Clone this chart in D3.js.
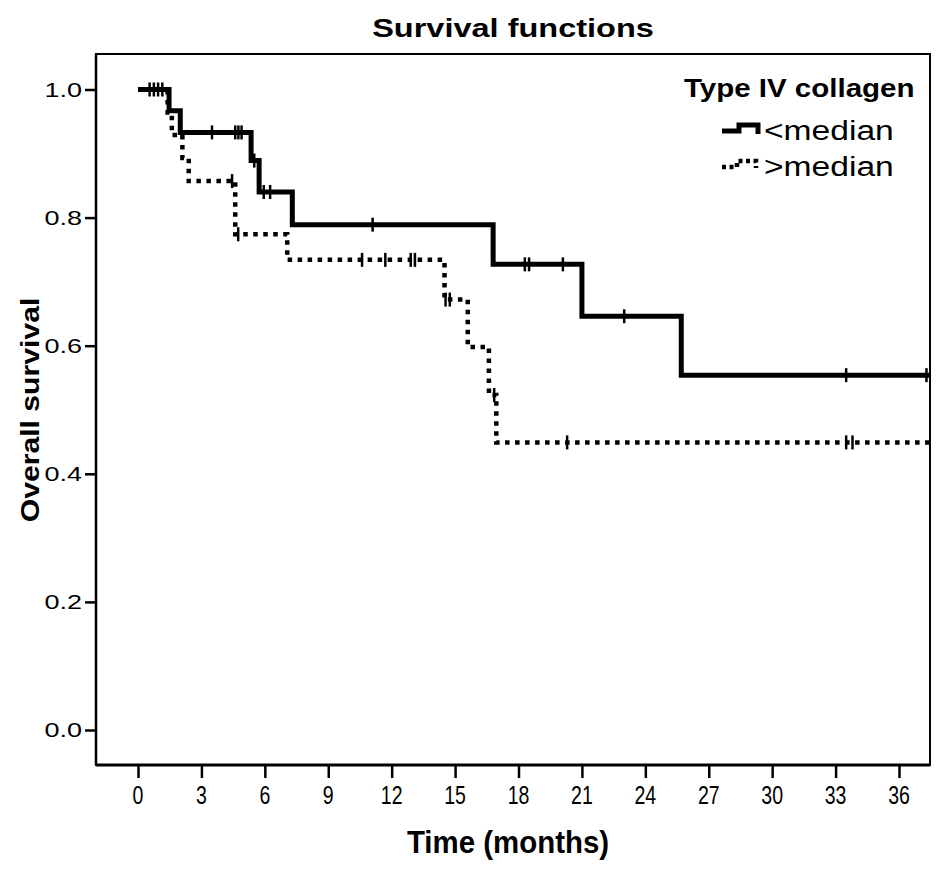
<!DOCTYPE html>
<html>
<head>
<meta charset="utf-8">
<script src="https://cdnjs.cloudflare.com/ajax/libs/d3/7.8.5/d3.min.js"></script>
<style>
  body { margin: 0; background: #fff; }
  text { font-family: "Liberation Sans", Arial, sans-serif; fill: #000; }
</style>
</head>
<body>
<div id="chart"></div>
<script>
// Kaplan-Meier curves

// ==========================================================
// data
var xTicks = [0, 3, 6, 9, 12, 15, 18, 21, 24, 27, 30, 33, 36];
var yTicks = [0.0, 0.2, 0.4, 0.6, 0.8, 1.0];
var endTime = 37.45;

// <median group: times where the curve steps down, and survival after the step
var lowTimes = [0, 1.47, 2.0, 5.35, 5.73, 7.3, 16.8, 21.0, 25.7];
var lowSurv = [1.0, 0.967, 0.933, 0.889, 0.840, 0.789, 0.727, 0.646, 0.554];
var lowCensored = [0.55, 0.95, 3.5, 4.6, 4.75, 4.9, 5.5, 5.95, 6.25, 11.1, 18.3, 18.5, 20.1, 23.0, 33.5, 37.3];

// >median group
var highTimes = [0, 1.4, 1.6, 2.1, 2.4, 4.6, 7.06, 14.5, 15.6, 16.6, 16.95];
var highSurv = [1.0, 0.964, 0.929, 0.893, 0.857, 0.774, 0.734, 0.672, 0.598, 0.523, 0.449];
var highCensored = [0.75, 1.15, 4.45, 4.74, 10.6, 11.7, 12.9, 13.1, 14.55, 14.75, 16.85, 20.3, 33.5, 33.8];

var groupLabels = ["<median", ">median"];

// ==========================================================
// size
var svgWidth = 945;
var svgHeight = 874;

var frame = { left: 96, top: 54, right: 930, bottom: 765 };

var svg = d3.select("#chart")
  .append("svg")
  .attr("width", svgWidth)
  .attr("height", svgHeight);

var xScale = d3.scaleLinear().domain([0, 36]).range([138, 899]);
var yScale = d3.scaleLinear().domain([0, 1]).range([730, 89.5]);

// text with a horizontal stretch, the original lettering is wider/narrower than Arial
function stretchText(x, y, str, size, weight, sx, anchor, rot) {
  var t = svg.append("text")
    .attr("transform", `translate(${x},${y}) rotate(${rot || 0}) scale(${sx},1)`)
    .attr("text-anchor", anchor)
    .style("font-size", size + "px")
    .style("font-weight", weight)
    .text(str);
  return t;
}

// ==========================================================
// frame
svg.append("path")
  .attr("d", `M${frame.left},${frame.bottom} V${frame.top} H${frame.right} V${frame.bottom} Z`)
  .attr("fill", "none")
  .attr("stroke", "#000")
  .attr("stroke-width", 2);

svg.append("line")
  .attr("x1", frame.left).attr("x2", frame.right)
  .attr("y1", frame.bottom).attr("y2", frame.bottom)
  .attr("stroke", "#000").attr("stroke-width", 3);

svg.append("line")
  .attr("x1", frame.left).attr("x2", frame.left)
  .attr("y1", frame.top).attr("y2", frame.bottom)
  .attr("stroke", "#000").attr("stroke-width", 2.5);

// axes with d3, then styled
var bottomAxis = d3.axisBottom(xScale).tickValues(xTicks).tickSize(12).tickFormat("");
var leftAxis = d3.axisLeft(yScale).tickValues(yTicks).tickSize(10).tickFormat("");

var xAxisG = svg.append("g")
  .attr("transform", `translate(0, ${frame.bottom + 1})`)
  .call(bottomAxis);
var yAxisG = svg.append("g")
  .attr("transform", `translate(${frame.left - 1}, 0)`)
  .call(leftAxis);

[xAxisG, yAxisG].forEach(function(g) {
  g.select(".domain").remove();
  g.selectAll(".tick line").attr("stroke", "#000").attr("stroke-width", 2.5);
});

xTicks.forEach(function(v) {
  stretchText(xScale(v), 804, String(v), 25, "normal", 0.78, "middle");
});
yTicks.forEach(function(v) {
  stretchText(82, yScale(v) + 7, v.toFixed(1), 20, "normal", 1.35, "end");
});

// titles
stretchText(513, 37, "Survival functions", 26, "bold", 1.25, "middle");
stretchText(508, 853, "Time (months)", 32, "bold", 0.92, "middle");
stretchText(39, 410, "Overall survival", 26, "bold", 1.16, "middle", -90);

// ==========================================================
// curves
function stepPoints(times, surv) {
  var pts = times.map(function(t, i) { return [t, surv[i]]; });
  pts.push([endTime, surv[surv.length - 1]]);
  return pts;
}

function survAt(times, surv, t) {
  var i = d3.bisectRight(times, t) - 1;
  return surv[Math.max(i, 0)];
}

var stepLine = d3.line()
  .x(d => xScale(d[0]))
  .y(d => yScale(d[1]))
  .curve(d3.curveStepAfter);

svg.append("path")
  .datum(stepPoints(highTimes, highSurv))
  .attr("d", stepLine)
  .attr("fill", "none")
  .attr("stroke", "#000")
  .attr("stroke-width", 4.5)
  .attr("stroke-dasharray", "4.5,5.5");

svg.append("path")
  .datum(stepPoints(lowTimes, lowSurv))
  .attr("d", stepLine)
  .attr("fill", "none")
  .attr("stroke", "#000")
  .attr("stroke-width", 5)
  .attr("stroke-linejoin", "miter");

// censor marks
function drawCensors(list, times, surv) {
  svg.append("g")
    .selectAll("line")
    .data(list)
    .enter()
    .append("line")
    .attr("x1", d => xScale(d))
    .attr("x2", d => xScale(d))
    .attr("y1", d => yScale(survAt(times, surv, d)) - 7)
    .attr("y2", d => yScale(survAt(times, surv, d)) + 7)
    .attr("stroke", "#000")
    .attr("stroke-width", 2.5);
}
drawCensors(lowCensored, lowTimes, lowSurv);
drawCensors(highCensored, highTimes, highSurv);

// ==========================================================
// legend
stretchText(684, 97, "Type IV collagen", 25, "bold", 1.18, "start");
stretchText(764, 140, groupLabels[0], 28, "normal", 1.2, "start");
stretchText(764, 176, groupLabels[1], 28, "normal", 1.2, "start");

svg.append("path")
  .attr("d", "M722,131 H739 V125 H758 V134")
  .attr("fill", "none")
  .attr("stroke", "#000")
  .attr("stroke-width", 5);

svg.append("path")
  .attr("d", "M722,167 H737 V161 H756 V168")
  .attr("fill", "none")
  .attr("stroke", "#000")
  .attr("stroke-width", 4.5)
  .attr("stroke-dasharray", "4,3.5");
</script>
</body>
</html>
